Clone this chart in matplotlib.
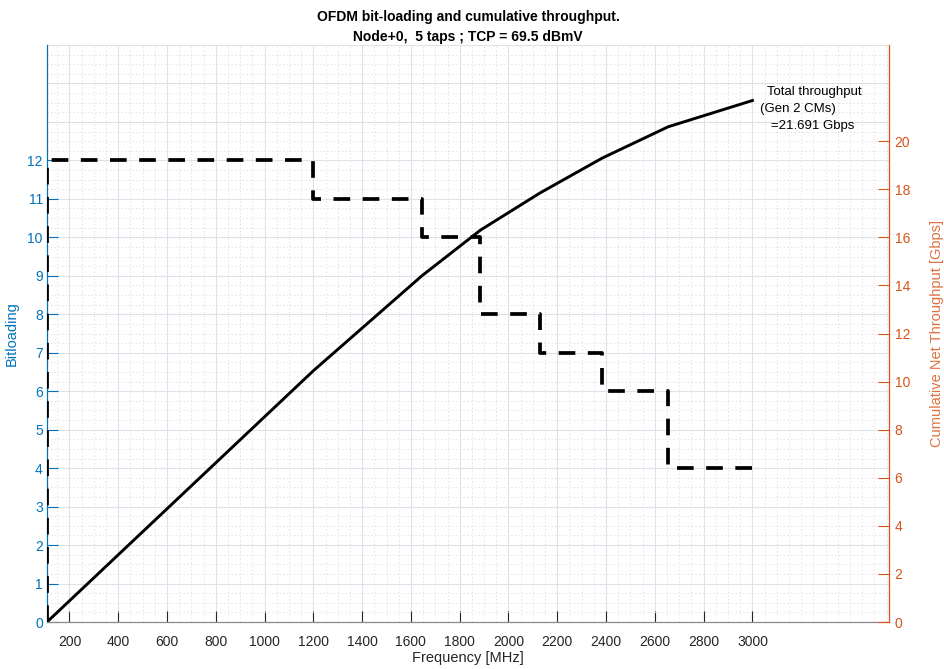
import numpy as np
import matplotlib
matplotlib.use("Agg")
from matplotlib import pyplot as plt
from matplotlib.ticker import MultipleLocator

# Bit-loading per band (MHz edges) and cumulative throughput at the band edges
band_edges = [108, 1200, 1645, 1885, 2130, 2385, 2655, 3000]
bitloading = [12, 11, 10, 8, 7, 6, 4]
throughput = [0, 10.45, 14.4, 16.3, 17.85, 19.3, 20.6, 21.691]

x_ticks = list(range(200, 3001, 200))
left_ticks = list(range(0, 13))
right_ticks = list(range(0, 21, 2))

title_text = "OFDM bit-loading and cumulative throughput.\nNode+0,  5 taps ; TCP = 69.5 dBmV"
note_text = "  Total throughput\n(Gen 2 CMs)\n   =21.691 Gbps"

BLUE = "#0072BD"
ORANGE = "#D95319"
AX_GREY = "#262626"

plt.rcParams['font.family'] = ['Liberation Sans', 'DejaVu Sans']
plt.rcParams['lines.scale_dashes'] = False

fig = plt.figure(figsize=(9.45, 6.69), dpi=100)
ax = fig.add_axes([47 / 945, 47 / 669, (889 - 47) / 945, (622 - 45) / 669])
ax2 = ax.twinx()

# stairs for the bit-loading
step_x = np.repeat(band_edges, 2)[1:-1]
step_y = np.repeat(bitloading, 2)
step_x = np.concatenate([[band_edges[0]], step_x])
step_y = np.concatenate([[0], step_y])
ax.plot(step_x, step_y, color="black", lw=2.7, linestyle=(0, (12, 9)),
        solid_capstyle="butt", dash_capstyle="butt", zorder=3)

ax2.plot(band_edges, throughput, color="black", lw=2.1, zorder=3)

ax.set_xlim(108, 3560)
ax.set_ylim(0, 15)
ax2.set_ylim(0, 24)

ax.set_xticks(x_ticks)
ax.set_yticks(left_ticks)
ax2.set_yticks(right_ticks)
ax.xaxis.set_minor_locator(MultipleLocator(50))
ax.yaxis.set_minor_locator(MultipleLocator(0.25))

ax.grid(True, which="major", color="#dde3ea", lw=0.8, ls="-")
ax.grid(True, which="minor", color="#dcdcdc", lw=0.6, ls=":")
ax.set_axisbelow(True)
# major horizontal grid lines also above the last labelled tick
for lvl in range(13, 16):
    ax.axhline(lvl, color="#dde3ea", lw=0.8, zorder=0)

ax.tick_params(axis="both", which="both", direction="in")
ax.tick_params(axis="x", which="major", length=8, width=0.8, color=AX_GREY,
               labelsize=10, labelcolor=AX_GREY, pad=9)
ax.tick_params(axis="y", which="major", length=8, width=0.8, color=BLUE,
               labelsize=10, labelcolor=BLUE, pad=3)
ax.tick_params(which="minor", length=0)
ax2.tick_params(axis="y", which="major", direction="in", length=8, width=0.8,
                color=ORANGE, labelsize=10, labelcolor=ORANGE, pad=4)

for a in (ax, ax2):
    a.spines["top"].set_visible(False)
ax.spines["left"].set_color(BLUE)
ax.spines["bottom"].set_color("#8c8c8c")
ax.spines["right"].set_visible(False)
ax2.spines["left"].set_visible(False)
ax2.spines["bottom"].set_visible(False)
ax2.spines["right"].set_color(ORANGE)
for s in ("left", "bottom"):
    ax.spines[s].set_linewidth(0.9)
ax2.spines["right"].set_linewidth(0.9)

ax.set_xlabel("Frequency [MHz]", fontsize=10.5, color=AX_GREY, labelpad=2)
ax.set_ylabel("Bitloading", fontsize=10.5, color=BLUE, labelpad=6)
ax2.set_ylabel("Cumulative Net Throughput [Gbps]", fontsize=10.5, color="#E0703F",
               labelpad=14)
ax.set_title(title_text, fontsize=10, fontweight="bold", color="black",
             linespacing=1.5, pad=3)

ax2.text(3030, 21.35, note_text, fontsize=9.5, color="black",
         ha="left", va="center", linespacing=1.55)

fig.savefig("out.png", dpi=100)
